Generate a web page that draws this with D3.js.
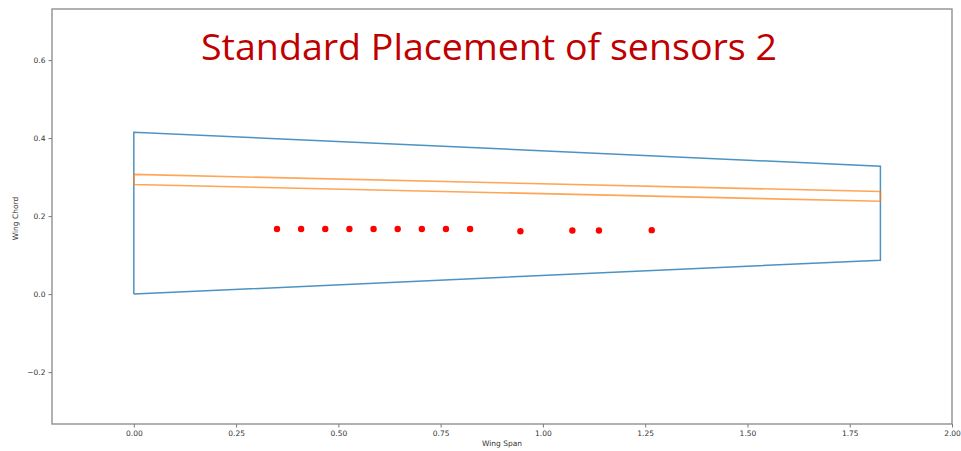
<!DOCTYPE html>
<html><head><meta charset="utf-8">
<script src="https://cdn.jsdelivr.net/npm/d3@7"></script>
<style>body{margin:0;background:#fff;}svg{display:block;}</style>
</head><body>
<script>
const titleText = "Standard Placement of sensors 2";
const xLabel = "Wing Span";
const yLabel = "Wing Chord";
const xTicks = [0, 0.25, 0.5, 0.75, 1.0, 1.25, 1.5, 1.75, 2.0];
const yTicks = [-0.2, 0.0, 0.2, 0.4, 0.6];
const wingX = [0, 0, 1.825, 1.825, 0];
const wingY = [0, 0.415, 0.328, 0.087, 0];
const sparX = [0, 1.825, 1.825, 0, 0];
const sparY = [0.307, 0.263, 0.238, 0.281, 0.307];
const sensorX = [0.35, 0.409, 0.468, 0.527, 0.586, 0.645, 0.704, 0.763, 0.822, 0.945, 1.072, 1.137, 1.266];
const sensorY = [0.167, 0.167, 0.167, 0.167, 0.167, 0.167, 0.167, 0.167, 0.167, 0.161, 0.163, 0.163, 0.164];

const W = 961, H = 451;
const svg = d3.select("body").append("svg").attr("width", W).attr("height", H);
const L = 52, R = 952, T = 9, B = 424;
const x = d3.scaleLinear().domain([-0.2, 2.0]).range([L, R]);
const y = d3.scaleLinear().domain([-0.333, 0.731]).range([B, T]);

const fmtX = d3.format(".2f");
const fmtY = v => d3.format(".1f")(v).replace("-", "\u2212");

const gx = svg.append("g").attr("transform", `translate(0,${B})`)
  .call(d3.axisBottom(x).tickValues(xTicks).tickFormat(fmtX).tickSize(3.5).tickPadding(3));
const gy = svg.append("g").attr("transform", `translate(${L},0)`)
  .call(d3.axisLeft(y).tickValues(yTicks).tickFormat(fmtY).tickSize(3.5).tickPadding(3));
[gx, gy].forEach(g => {
  g.select(".domain").remove();
  g.selectAll("line").attr("stroke", "#555").attr("stroke-width", 0.8);
  g.selectAll("text").attr("font-family", "DejaVu Sans").attr("font-size", 7.5).attr("fill", "#333");
});

svg.append("rect").attr("x", L).attr("y", T).attr("width", R - L).attr("height", B - T)
  .attr("fill", "none").attr("stroke", "#888").attr("stroke-width", 1.3);

const line = d3.line().x(d => x(d[0])).y(d => y(d[1]));
svg.append("path").datum(wingX.map((v, i) => [v, wingY[i]]))
  .attr("d", line).attr("fill", "none").attr("stroke", "#1f77b4").attr("stroke-width", 1.5).attr("stroke-opacity", 0.8);
svg.append("path").datum(sparX.map((v, i) => [v, sparY[i]]))
  .attr("d", line).attr("fill", "none").attr("stroke", "#ff7f0e").attr("stroke-width", 1.6).attr("stroke-opacity", 0.7);

svg.append("g").selectAll("circle").data(sensorX.map((v, i) => [v, sensorY[i]])).join("circle")
  .attr("cx", d => x(d[0])).attr("cy", d => y(d[1])).attr("r", 3.2).attr("fill", "#ff0000");

svg.append("text").attr("x", (L + R) / 2).attr("y", 446).attr("text-anchor", "middle")
  .attr("font-family", "DejaVu Sans").attr("font-size", 7.5).attr("fill", "#333").text(xLabel);
svg.append("text").attr("transform", `translate(18,${(T + B) / 2 + 2}) rotate(-90)`).attr("text-anchor", "middle")
  .attr("font-family", "DejaVu Sans").attr("font-size", 7.5).attr("fill", "#333").text(yLabel);

svg.append("text").attr("x", 201).attr("y", 59.5)
  .attr("font-family", "Open Sans").attr("font-size", 37).attr("fill", "#c00000")
  .attr("textLength", 576).attr("lengthAdjust", "spacingAndGlyphs").text(titleText);
</script>
</body></html>
